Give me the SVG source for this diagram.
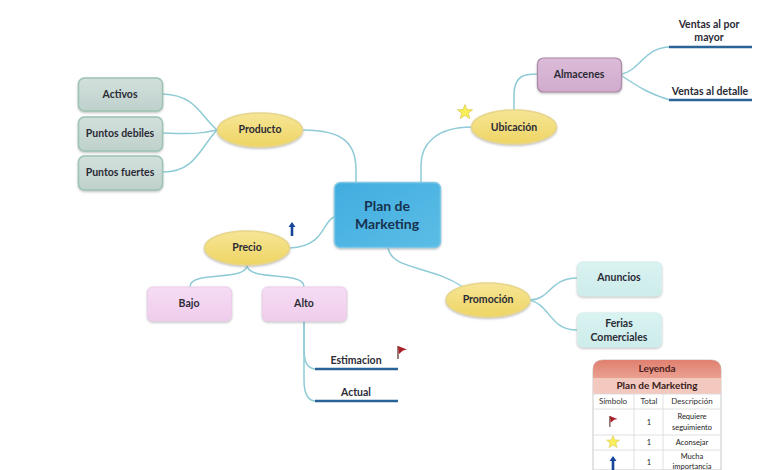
<svg xmlns="http://www.w3.org/2000/svg" width="780" height="470" viewBox="0 0 780 470">
<style>
text{font-family:Lato,"Liberation Sans",sans-serif;text-anchor:middle;fill:#2b2b35;font-weight:700}
.n{font-size:10.500px}
.c{fill:none;stroke:#8fcbd6;stroke-width:1.500;stroke-linecap:round}
.u{fill:none;stroke:#2a6496;stroke-width:2.600}
.e{fill:url(#ye);stroke:#e8d68a;stroke-width:1.500;filter:url(#s)}
.gr{fill:url(#gr);stroke:#9cc4b4;stroke-width:1.500;filter:url(#s)}
.pk{fill:url(#pk);stroke:#eccdea;stroke-width:1;filter:url(#s)}
.tl{fill:url(#tl);stroke:#d4efee;stroke-width:1;filter:url(#s)}
.l{fill:none;stroke:#d8d8d8;stroke-width:.8}
.t{font-size:7.500px;font-weight:400;fill:#222}
.th{font-size:8px;fill:#333;font-weight:400}
</style>
<defs>
<filter id="s" x="-10%" y="-10%" width="120%" height="130%"><feDropShadow dx="0" dy="1.200" stdDeviation="0.800" flood-color="#888" flood-opacity=".55"/></filter>
<linearGradient id="ye" x1="0" y1="0" x2="0" y2="1"><stop offset="0" stop-color="#f6e596"/><stop offset="1" stop-color="#efd564"/></linearGradient>
<linearGradient id="gr" x1="0" y1="0" x2="0" y2="1"><stop offset="0" stop-color="#d2e0dc"/><stop offset="1" stop-color="#bfd1cc"/></linearGradient>
<linearGradient id="pk" x1="0" y1="0" x2="0" y2="1"><stop offset="0" stop-color="#f6dcf4"/><stop offset="1" stop-color="#efcdec"/></linearGradient>
<linearGradient id="tl" x1="0" y1="0" x2="0" y2="1"><stop offset="0" stop-color="#d9f3f1"/><stop offset="1" stop-color="#cdecea"/></linearGradient>
<linearGradient id="pu" x1="0" y1="0" x2="0" y2="1"><stop offset="0" stop-color="#dcbbd8"/><stop offset="1" stop-color="#d0abcd"/></linearGradient>
<linearGradient id="bl" x1="0" y1="0" x2="1" y2="1"><stop offset="0" stop-color="#41ade0"/><stop offset="1" stop-color="#5cbde6"/></linearGradient>
<linearGradient id="lh" x1="0" y1="0" x2="0" y2="1"><stop offset="0" stop-color="#e08070"/><stop offset="1" stop-color="#eaa090"/></linearGradient>
<path id="star" d="M0-7.500 2.100-2.400 7.600-2.200 3.300 1.200 4.800 6.600 0 3.500-4.800 6.600-3.300 1.200-7.600-2.200-2.100-2.400Z" fill="#f7ee5a" stroke="#d9c94a" stroke-width=".7"/>
<path id="flag" d="M1 0V13" stroke="#6e4a44" stroke-width="1.400" fill="none"/>
<path id="pen" d="M1 0 10 3.500 6 4.500 2 8Z" fill="#a81f28"/>
<path id="arrow" d="M0-7 3.500-2H1.300V7H-1.300V-2H-3.500Z" fill="#16459a"/>
</defs>
<g id="connectors">
<path class="c" d="M356 183V170C356 145 345 130 303 130"/>
<path class="c" d="M421 183V165C421 145 435 127 472 127"/>
<path class="c" d="M334 217C322 222 325 246 290 248"/>
<path class="c" d="M388 248C392 270 430 265 463 287"/>
<path class="c" d="M163 94C195 95 200 115 217 130"/>
<path class="c" d="M163 133C190 134 200 134 217 130"/>
<path class="c" d="M163 172C195 172 200 148 217 130"/>
<path class="c" d="M514 110V95C514 75 525 74 537 74"/>
<path class="c" d="M622 74C640 70 645 47 670 47"/>
<path class="c" d="M622 76C640 88 650 94 670 100"/>
<path class="c" d="M530 300C550 300 550 278 577 278"/>
<path class="c" d="M530 300C550 305 550 330 577 330"/>
<path class="c" d="M247 265C247 282 190 270 190 287"/>
<path class="c" d="M247 265C247 282 304 270 304 287"/>
<path class="c" d="M304 321V350C304 362 308 369 316 369"/>
<path class="c" d="M304 321V380C304 394 308 401 316 401"/>
</g>
<g id="node-center"><rect x="334.500" y="182.500" width="106" height="65" rx="6" fill="url(#bl)" stroke="#7fc9e6" stroke-width="1.500" filter="url(#s)"/><text x="387" y="210.500" font-size="14" style="fill:#17324f">Plan de</text><text x="387" y="229" font-size="14" style="fill:#17324f">Marketing</text></g>
<g id="node-producto"><ellipse class="e" cx="260" cy="130" rx="42.500" ry="17"/><text class="n" x="260" y="133">Producto</text></g>
<g id="node-ubicacion"><ellipse class="e" cx="514" cy="127" rx="42.500" ry="17"/><text class="n" x="514" y="130.500">Ubicación</text></g>
<g id="node-precio"><ellipse class="e" cx="247" cy="248" rx="42.500" ry="17"/><text class="n" x="247" y="251">Precio</text></g>
<g id="node-promocion"><ellipse class="e" cx="488" cy="300" rx="42" ry="17"/><text class="n" x="488" y="303">Promoción</text></g>
<g id="node-activos"><rect class="gr" x="78.500" y="78" width="84" height="33" rx="6"/><text class="n" x="120" y="98">Activos</text></g>
<g id="node-debiles"><rect class="gr" x="78.500" y="117" width="84" height="34" rx="6"/><text class="n" x="120" y="137">Puntos debiles</text></g>
<g id="node-fuertes"><rect class="gr" x="78.500" y="156" width="84" height="34" rx="6"/><text class="n" x="120" y="176">Puntos fuertes</text></g>
<g id="node-almacenes"><rect x="537.500" y="58" width="84" height="34" rx="6" fill="url(#pu)" stroke="#a98aa8" stroke-width="1.200" filter="url(#s)"/><text class="n" x="579" y="78">Almacenes</text></g>
<g id="node-mayor"><path class="u" d="M669 47H752"/><text class="n" x="709" y="28">Ventas al por</text><text class="n" x="709" y="41">mayor</text></g>
<g id="node-detalle"><path class="u" d="M669 100H752"/><text class="n" x="710" y="95">Ventas al detalle</text></g>
<g id="node-bajo"><rect class="pk" x="147.500" y="287" width="84" height="34" rx="5"/><text class="n" x="189" y="307">Bajo</text></g>
<g id="node-alto"><rect class="pk" x="262.500" y="287" width="84" height="34" rx="5"/><text class="n" x="304" y="307">Alto</text></g>
<g id="node-estimacion"><path class="u" d="M315 369H398"/><text class="n" x="356" y="364">Estimacion</text></g>
<g id="node-actual"><path class="u" d="M315 401H398"/><text class="n" x="356" y="396">Actual</text></g>
<g id="node-anuncios"><rect class="tl" x="577.500" y="262" width="84" height="34" rx="5"/><text class="n" x="619" y="281">Anuncios</text></g>
<g id="node-ferias"><rect class="tl" x="577.500" y="313" width="84" height="34" rx="5"/><text class="n" x="619" y="327">Ferias</text><text class="n" x="619" y="341">Comerciales</text></g>
<g id="icons">
<use href="#star" x="465" y="112"/>
<use href="#arrow" x="292" y="229"/>
<g transform="translate(397 346)"><use href="#flag"/><use href="#pen"/></g>
</g>
<g id="legend">
<path d="M593 470V370Q593 360 603 360H711Q721 360 721 370V470Z" fill="#fff" stroke="#c8c8c8"/>
<path d="M593 378V370Q593 360 603 360H711Q721 360 721 370V378Z" fill="url(#lh)"/>
<rect x="593" y="378" width="128" height="16" fill="#f3c9bf"/>
<path class="l" d="M593 394H721M593 409H721M593 435H721M593 450H721M634 394V470M663 394V470"/>
<text x="657" y="372" font-size="10" style="fill:#4a2020">Leyenda</text>
<text x="657" y="389" font-size="10" style="fill:#3a2020">Plan de Marketing</text>
<text class="th" x="613" y="404">Símbolo</text><text class="th" x="649" y="404">Total</text><text class="th" x="692" y="404">Descripción</text>
<g transform="translate(609 416) scale(.85)"><use href="#flag"/><use href="#pen"/></g>
<text class="t" x="649" y="425">1</text><text class="t" x="692" y="419">Requiere</text><text class="t" x="692" y="430">seguimiento</text>
<use href="#star" transform="translate(613 442) scale(.85)"/>
<text class="t" x="649" y="445">1</text><text class="t" x="692" y="445">Aconsejar</text>
<use href="#arrow" transform="translate(613 463)"/>
<text class="t" x="649" y="465">1</text><text class="t" x="692" y="459">Mucha</text><text class="t" x="692" y="469">importancia</text>
</g>
</svg>
